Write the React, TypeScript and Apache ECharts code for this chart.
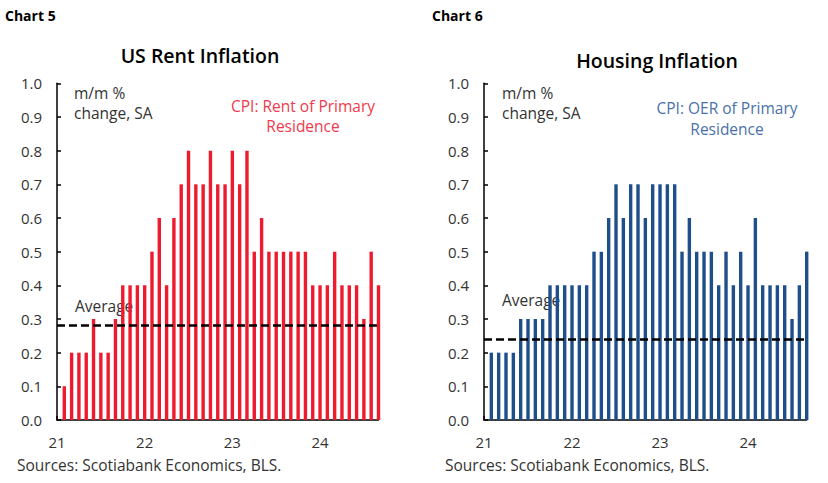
import React, { useEffect, useRef } from "react";
import * as echarts from "echarts";

const months: string[] = [];
for (let y = 2021; y <= 2024; y++) {
  for (let m = 1; m <= 12; m++) {
    if (y === 2024 && m > 8) break;
    months.push(`${y}-${String(m).padStart(2, "0")}`);
  }
}

const rentValues = [
  0.1, 0.2, 0.2, 0.2, 0.3, 0.2, 0.2, 0.3, 0.4, 0.4, 0.4, 0.4,
  0.5, 0.6, 0.4, 0.6, 0.7, 0.8, 0.7, 0.7, 0.8, 0.7, 0.7, 0.8,
  0.7, 0.8, 0.5, 0.6, 0.5, 0.5, 0.5, 0.5, 0.5, 0.5, 0.4, 0.4,
  0.4, 0.5, 0.4, 0.4, 0.4, 0.3, 0.5, 0.4,
];
const oerValues = [
  0.2, 0.2, 0.2, 0.2, 0.3, 0.3, 0.3, 0.3, 0.4, 0.4, 0.4, 0.4,
  0.4, 0.4, 0.5, 0.5, 0.6, 0.7, 0.6, 0.7, 0.7, 0.6, 0.7, 0.7,
  0.7, 0.7, 0.5, 0.6, 0.5, 0.5, 0.5, 0.4, 0.5, 0.4, 0.5, 0.4,
  0.6, 0.4, 0.4, 0.4, 0.4, 0.3, 0.4, 0.5,
];
const rentAverage = 0.28;
const oerAverage = 0.245;
const yearTickLabels = ["21", "22", "23", "24"];

const RED = "#EE1B2E";
const BLUE = "#1E4F8A";
const FONT = "'Open Sans', 'Noto Sans', sans-serif";

export default function App() {
  const ref = useRef<HTMLDivElement>(null);
  useEffect(() => {
    if (!ref.current) return;
    const chart = echarts.init(ref.current, undefined, { renderer: "svg" });

    const xAxisBase = (gridIndex: number) => ({
      type: "value",
      gridIndex,
      min: 0,
      max: 44,
      interval: 12,
      axisLine: { show: true, lineStyle: { color: "#000", width: 1.5 } },
      axisTick: { show: true, inside: true, length: 4, lineStyle: { color: "#000", width: 1.5 } },
      splitLine: { show: false },
      axisLabel: {
        color: "#333",
        fontSize: 15,
        fontFamily: FONT,
        margin: 14,
        formatter: (v: number) => {
          const idx = Math.round(v / 12);
          return yearTickLabels[idx] ?? "";
        },
        showMaxLabel: false,
      },
    });
    const yAxisBase = (gridIndex: number) => ({
      type: "value",
      gridIndex,
      min: 0,
      max: 1,
      interval: 0.1,
      axisLine: { show: true, lineStyle: { color: "#000", width: 1.5 } },
      axisTick: { show: true, inside: true, length: 4, lineStyle: { color: "#000", width: 1.5 } },
      splitLine: { show: false },
      axisLabel: {
        color: "#333",
        fontSize: 15,
        fontFamily: FONT,
        margin: 15,
        formatter: (v: number) => v.toFixed(1),
      },
    });

    const barSeries = (idx: number, values: number[], color: string, avg: number) => ({
      type: "bar",
      xAxisIndex: idx,
      yAxisIndex: idx,
      data: values.map((v, i) => [i + 1, v]),
      barWidth: 3.4,
      clip: false,
      itemStyle: { color },
      markLine: {
        silent: true,
        symbol: "none",
        label: { show: false },
        lineStyle: { color: "#000", type: [8, 4], width: 2.6 },
        data: [{ yAxis: avg }],
      },
    });

    const t = (x: number, y: number, s: string, extra: any = {}) => ({
      type: "text",
      x,
      y,
      style: {
        text: s,
        fontFamily: FONT,
        fontSize: 15.5,
        fill: "#333",
        align: "left",
        verticalAlign: "middle",
        ...extra,
      },
    });

    chart.setOption({
      animation: false,
      grid: [
        { left: 57, top: 83.3, width: 321.5, height: 336.7 },
        { left: 484, top: 83.3, width: 322.7, height: 336.7 },
      ],
      xAxis: [xAxisBase(0), xAxisBase(1)],
      yAxis: [yAxisBase(0), yAxisBase(1)],
      series: [
        barSeries(0, rentValues, RED, rentAverage),
        barSeries(1, oerValues, BLUE, oerAverage),
      ],
      graphic: [
        t(5, 15, "Chart 5", { fontWeight: "bold", fill: "#000", fontSize: 14 }),
        t(432, 15, "Chart 6", { fontWeight: "bold", fill: "#000", fontSize: 14 }),
        t(200, 55, "US Rent Inflation", { align: "center", fontWeight: 600, fill: "#000", fontSize: 19.5 }),
        t(657, 60, "Housing Inflation", { align: "center", fontWeight: 600, fill: "#000", fontSize: 19.5 }),
        t(74, 93, "m/m %"),
        t(74, 113, "change, SA"),
        t(502, 93, "m/m %"),
        t(502, 113, "change, SA"),
        t(303, 106, "CPI: Rent of Primary", { align: "center", fill: "#F03A4C" }),
        t(303, 126, "Residence", { align: "center", fill: "#F03A4C" }),
        t(727, 108, "CPI: OER of Primary", { align: "center", fill: "#4A72A8" }),
        t(727, 129, "Residence", { align: "center", fill: "#4A72A8" }),
        t(75, 306, "Average"),
        t(502, 300, "Average"),
        t(17, 465, "Sources: Scotiabank Economics, BLS."),
        t(445, 465, "Sources: Scotiabank Economics, BLS."),
      ],
    });
    return () => chart.dispose();
  }, []);
  return (
    <div
      ref={ref}
      style={{ position: "fixed", left: 0, top: 0, width: 828, height: 483, background: "#fff" }}
    />
  );
}
